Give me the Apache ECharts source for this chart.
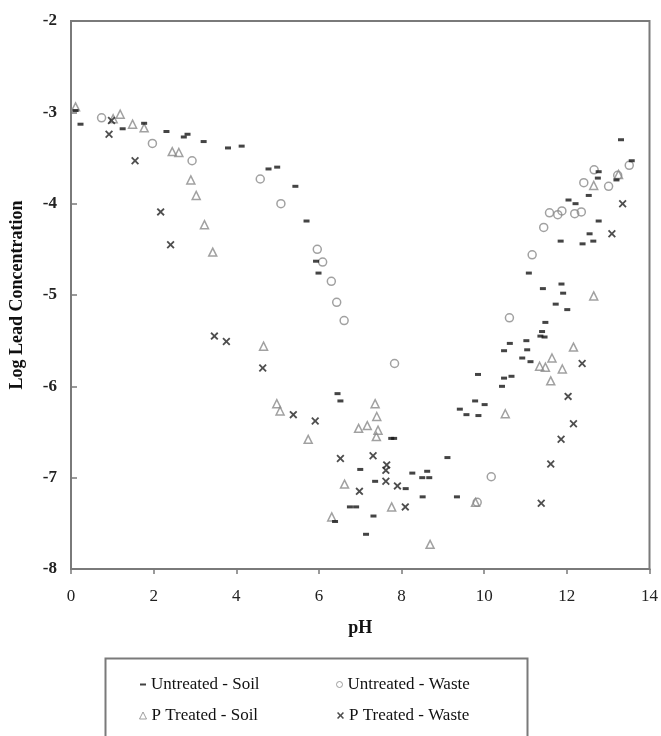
<!DOCTYPE html>
<html>
<head>
<meta charset="utf-8">
<script src="https://cdn.jsdelivr.net/npm/echarts@6/dist/echarts.min.js"></script>
<style>
html,body{margin:0;padding:0;background:#fff;}
#chart{width:661px;height:736px;}
</style>
</head>
<body>
<div id="chart"></div>
<script>
// [pH, log lead concentration]
const untreatedSoil = [
  [0.11,-2.98],[0.23,-3.13],[1.25,-3.18],[1.77,-3.12],[2.31,-3.21],[2.73,-3.27],[2.82,-3.24],
  [3.21,-3.32],[3.80,-3.39],[4.13,-3.37],[4.78,-3.62],[4.99,-3.60],[5.43,-3.81],[5.70,-4.19],
  [5.93,-4.63],[5.99,-4.76],[6.45,-6.08],[6.52,-6.16],[7.75,-6.57],[7.82,-6.57],[7.00,-6.91],[7.36,-7.04],
  [6.75,-7.32],[6.90,-7.32],[6.39,-7.48],[7.32,-7.42],[7.14,-7.62],[8.10,-7.12],[8.26,-6.95],
  [8.50,-7.00],[8.67,-7.00],[8.62,-6.93],[8.51,-7.21],[9.11,-6.78],[9.34,-7.21],[9.85,-5.87],
  [9.78,-6.16],[9.41,-6.25],[9.57,-6.31],[9.86,-6.32],[10.01,-6.20],[10.43,-6.00],[10.48,-5.91],
  [10.66,-5.89],[10.48,-5.61],[10.62,-5.53],[10.92,-5.69],[11.02,-5.50],[11.04,-5.60],[11.12,-5.73],
  [11.36,-5.45],[11.46,-5.46],[11.40,-5.40],[11.42,-4.93],[11.87,-4.88],[11.91,-4.98],[11.73,-5.10],
  [12.01,-5.16],[11.48,-5.30],[13.31,-3.30],[13.57,-3.53],[12.77,-3.65],[12.75,-3.72],[13.20,-3.74],
  [12.53,-3.91],[12.04,-3.96],[12.21,-4.00],[12.77,-4.19],[12.55,-4.33],[12.64,-4.41],[12.38,-4.44],
  [11.85,-4.41],[11.08,-4.76]
];
const untreatedWaste = [
  [0.74,-3.06],[1.97,-3.34],[2.93,-3.53],[4.58,-3.73],[5.08,-4.00],[5.96,-4.50],[6.09,-4.64],
  [6.30,-4.85],[6.43,-5.08],[6.61,-5.28],[7.83,-5.75],[10.17,-6.99],[9.83,-7.27],[11.16,-4.56],
  [11.44,-4.26],[11.58,-4.10],[11.78,-4.12],[11.88,-4.08],[12.19,-4.11],[12.35,-4.09],[12.41,-3.77],
  [13.01,-3.81],[12.66,-3.63],[13.23,-3.69],[13.51,-3.58],[10.61,-5.25]
];
const pTreatedSoil = [
  [0.11,-2.94],[1.19,-3.02],[1.02,-3.07],[1.49,-3.13],[1.77,-3.17],[2.45,-3.43],[2.61,-3.44],
  [2.90,-3.74],[3.03,-3.91],[3.23,-4.23],[3.43,-4.53],[4.66,-5.56],[4.98,-6.19],[5.06,-6.27],
  [5.74,-6.58],[7.36,-6.19],[7.40,-6.33],[6.96,-6.46],[7.17,-6.43],[7.43,-6.48],[7.39,-6.55],
  [6.62,-7.07],[7.76,-7.32],[6.31,-7.43],[8.69,-7.73],[9.79,-7.27],[10.51,-6.30],[11.64,-5.69],
  [11.34,-5.78],[11.48,-5.79],[11.61,-5.94],[12.65,-5.01],[12.16,-5.57],[11.89,-5.81],
  [12.65,-3.80],[13.25,-3.68]
];
const pTreatedWaste = [
  [0.98,-3.09],[0.92,-3.24],[1.55,-3.53],[2.17,-4.09],[2.41,-4.45],[3.47,-5.45],[3.76,-5.51],
  [4.64,-5.80],[5.38,-6.31],[5.91,-6.38],[6.52,-6.79],[7.31,-6.76],[7.64,-6.86],[7.62,-6.92],
  [7.62,-7.04],[6.98,-7.15],[7.90,-7.09],[8.09,-7.32],[11.61,-6.85],[11.38,-7.28],[12.37,-5.75],
  [12.03,-6.11],[12.16,-6.41],[11.86,-6.58],[13.35,-4.00],[13.09,-4.33]
];
const seriesNames = ['Untreated - Soil','Untreated - Waste','P Treated - Soil','P Treated - Waste'];
const xTicks = [0,2,4,6,8,10,12,14];
const yTicks = [-8,-7,-6,-5,-4,-3,-2];

const XPATH = 'path://M0,1.6L1.6,0L5,3.4L8.4,0L10,1.6L6.6,5L10,8.4L8.4,10L5,6.6L1.6,10L0,8.4L3.4,5Z';
const serif = '"Liberation Serif", "Times New Roman", serif';

const chart = echarts.init(document.getElementById('chart'), null, {renderer:'canvas'});
chart.setOption({
  animation:false,
  backgroundColor:'#fff',
  grid:{left:71, right:10, top:21, bottom:167, show:true, borderColor:'#7a7a7a', borderWidth:2, backgroundColor:'transparent'},
  xAxis:{
    type:'value', min:xTicks[0], max:xTicks[xTicks.length-1], interval:2,
    name:'pH', nameLocation:'middle', nameGap:50,
    nameTextStyle:{fontFamily:serif, fontWeight:'bold', fontSize:18, color:'#111'},
    axisLine:{lineStyle:{color:'#7a7a7a', width:2}},
    axisTick:{show:true, inside:false, length:5, lineStyle:{color:'#7a7a7a', width:1.5}},
    axisLabel:{fontFamily:serif, fontSize:17, color:'#222', margin:19},
    splitLine:{show:false}
  },
  yAxis:{
    type:'value', min:yTicks[0], max:yTicks[yTicks.length-1], interval:1,
    name:'Log Lead Concentration', nameLocation:'middle', nameGap:45, nameRotate:90,
    nameTextStyle:{fontFamily:serif, fontWeight:'bold', fontSize:18, color:'#111'},
    axisLine:{lineStyle:{color:'#7a7a7a', width:2}},
    axisTick:{show:true, inside:true, length:6, lineStyle:{color:'#7a7a7a', width:1.5}},
    axisLabel:{fontFamily:serif, fontSize:17, fontWeight:'bold', color:'#222', margin:14},
    splitLine:{show:false}
  },
  legend:[
    {left:140, top:676, padding:0, itemWidth:6, itemHeight:2, textStyle:{fontFamily:serif, fontSize:17, color:'#111'},
     data:[{name:seriesNames[0], icon:'rect', itemStyle:{color:'#111'}}]},
    {left:336, top:676, padding:0, itemWidth:6, itemHeight:6, textStyle:{fontFamily:serif, fontSize:17, color:'#111'},
     data:[{name:seriesNames[1], icon:'circle', itemStyle:{color:'#fff', borderColor:'#888', borderWidth:1}}]},
    {left:139, top:707, padding:0, itemWidth:7, itemHeight:7, textStyle:{fontFamily:serif, fontSize:17, color:'#111'},
     data:[{name:seriesNames[2], icon:'triangle', itemStyle:{color:'#fff', borderColor:'#888', borderWidth:1}}]},
    {left:337, top:707, padding:0, itemWidth:7, itemHeight:7, textStyle:{fontFamily:serif, fontSize:17, color:'#111'},
     data:[{name:seriesNames[3], icon:XPATH, itemStyle:{color:'#222'}}]}
  ],
  graphic:[{type:'rect', left:103, top:656, shape:{width:422, height:100}, style:{fill:'none', stroke:'#7a7a7a', lineWidth:2}, silent:true}],
  series:[
    {name:seriesNames[0], type:'scatter', data:untreatedSoil, symbol:'rect', symbolSize:[6,3],
     itemStyle:{color:'#151515'}, z:4},
    {name:seriesNames[1], type:'scatter', data:untreatedWaste, symbol:'circle', symbolSize:8,
     itemStyle:{color:'rgba(255,255,255,0)', borderColor:'#8a8a8a', borderWidth:1.5}, z:3},
    {name:seriesNames[2], type:'scatter', data:pTreatedSoil, symbol:'triangle', symbolSize:[8,8],
     itemStyle:{color:'rgba(255,255,255,0)', borderColor:'#8a8a8a', borderWidth:1.5}, z:3},
    {name:seriesNames[3], type:'scatter', data:pTreatedWaste, symbol:XPATH, symbolSize:8,
     itemStyle:{color:'#222'}, z:5}
  ]
});
</script>
</body>
</html>
